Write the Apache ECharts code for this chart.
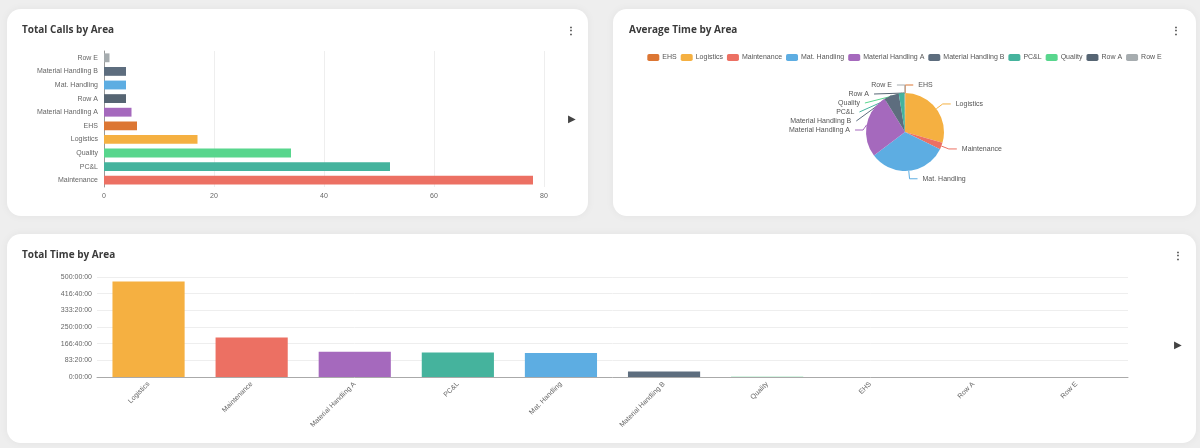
<!DOCTYPE html>
<html>
<head>
<meta charset="utf-8">
<script src="https://cdn.jsdelivr.net/npm/echarts/dist/echarts.min.js"></script>
<style>
  html, body { margin: 0; padding: 0; }
  body {
    width: 1200px; height: 448px; position: relative; overflow: hidden;
    background: #eeeeee; font-family: "Open Sans", sans-serif;
  }
  .card {
    position: absolute; background: #fff; border-radius: 14px;
    box-shadow: 0 0 8px rgba(0, 0, 0, 0.05);
  }
  .card .chart { position: absolute; left: 0; top: 0; width: 100%; height: 100%; }
  .dots { position: absolute; font-size: 10px; font-weight: bold; color: #333; line-height: 10px; }
  .arrow { position: absolute; font-size: 10px; color: #444; line-height: 10px; }
</style>
</head>
<body>
<div class="card" style="left:7px;top:9px;width:581px;height:207px;">
  <div id="calls" class="chart"></div>
  <span class="dots" style="left:559px;top:16px;">&#8942;</span>
  <span class="arrow" style="left:561px;top:104px;">&#9654;</span>
</div>
<div class="card" style="left:613px;top:9px;width:583px;height:207px;">
  <div id="avg" class="chart"></div>
  <span class="dots" style="left:558px;top:16px;">&#8942;</span>
</div>
<div class="card" style="left:7px;top:234px;width:1189px;height:209px;">
  <div id="total" class="chart"></div>
  <span class="dots" style="left:1166px;top:16px;">&#8942;</span>
  <span class="arrow" style="left:1167px;top:105px;">&#9654;</span>
</div>
<script>
  // colours per area
  var areaColors = {
    'EHS': '#dc7633',
    'Logistics': '#f5b041',
    'Maintenance': '#ec7063',
    'Mat. Handling': '#5dade2',
    'Material Handling A': '#a569bd',
    'Material Handling B': '#5d6d7e',
    'PC&L': '#45b39d',
    'Quality': '#58d68d',
    'Row A': '#566573',
    'Row E': '#a6acaf'
  }

  // Total Calls by Area (bottom to top)
  var callAreas = ['Maintenance', 'PC&L', 'Quality', 'Logistics', 'EHS', 'Material Handling A', 'Row A', 'Mat. Handling', 'Material Handling B', 'Row E']
  var callCounts = [78, 52, 34, 17, 6, 5, 4, 4, 4, 1]

  // Average Time by Area (hours)
  var avgAreas = ['EHS', 'Logistics', 'Maintenance', 'Mat. Handling', 'Material Handling A', 'Material Handling B', 'PC&L', 'Quality', 'Row A', 'Row E']
  var avgHours = [0.15, 26.5, 2.5, 29.3, 24, 5.6, 2.1, 0.08, 0.1, 0.05]

  // Total Time by Area (hours)
  var totalAreas = ['Logistics', 'Maintenance', 'Material Handling A', 'PC&L', 'Mat. Handling', 'Material Handling B', 'Quality', 'EHS', 'Row A', 'Row E']
  var totalHours = [478, 197, 126, 122, 120, 27, 0.8, 0.4, 0.3, 0.2]

  var titleStyle = { fontSize: 10, fontWeight: 'bold', color: '#3a3a3a', fontFamily: 'Open Sans' }
  var labelColor = '#666'

  function hms (hours) {
    var s = Math.round(hours * 3600)
    var h = Math.floor(s / 3600)
    var m = Math.floor((s % 3600) / 60)
    var sec = s % 60
    return h + ':' + (m < 10 ? '0' : '') + m + ':' + (sec < 10 ? '0' : '') + sec
  }

  var callsChart = echarts.init(document.getElementById('calls'))
  callsChart.setOption({
    animation: false,
    title: { text: 'Total Calls by Area', left: 15, top: 16, padding: 0, textStyle: titleStyle },
    grid: { left: 97, right: 44, top: 42, bottom: 29 },
    xAxis: {
      type: 'value', min: 0, max: 80, interval: 20,
      axisLabel: { fontSize: 7, color: labelColor, margin: 6 },
      splitLine: { lineStyle: { color: '#eeeeee' } }
    },
    yAxis: {
      type: 'category', data: callAreas,
      axisLine: { lineStyle: { color: '#999' } },
      axisTick: { lineStyle: { color: '#999' }, length: 3 },
      axisLabel: { fontSize: 7, color: labelColor, margin: 6 }
    },
    series: [{
      type: 'bar', barWidth: '65%',
      data: callCounts.map(function (v, i) {
        return { value: v, itemStyle: { color: areaColors[callAreas[i]] } }
      })
    }]
  })

  var avgChart = echarts.init(document.getElementById('avg'))
  avgChart.setOption({
    animation: false,
    color: avgAreas.map(function (a) { return areaColors[a] }),
    title: { text: 'Average Time by Area', left: 16, top: 16, padding: 0, textStyle: titleStyle },
    legend: {
      top: 40, left: 'center', itemWidth: 12, itemHeight: 7, itemGap: 4,
      icon: 'roundRect',
      textStyle: { fontSize: 7, color: '#555', padding: [0, 0, 0, -2] },
      data: avgAreas
    },
    series: [{
      type: 'pie', radius: 39, center: [292, 123],
      label: { fontSize: 7, color: '#555' },
      labelLine: { length: 8, length2: 8, lineStyle: { width: 1 } },
      data: avgAreas.map(function (a, i) { return { name: a, value: avgHours[i] } })
    }]
  })

  var totalChart = echarts.init(document.getElementById('total'))
  totalChart.setOption({
    animation: false,
    title: { text: 'Total Time by Area', left: 15, top: 16, padding: 0, textStyle: titleStyle },
    grid: { left: 90, right: 68, top: 43, bottom: 66 },
    xAxis: {
      type: 'category', data: totalAreas,
      axisLine: { lineStyle: { color: '#aaa' } },
      axisTick: { lineStyle: { color: '#aaa' }, length: 3 },
      axisLabel: { fontSize: 7, color: labelColor, rotate: 45, margin: 6, interval: 0 }
    },
    yAxis: {
      type: 'value', min: 0, max: 500, interval: 500 / 6,
      axisLabel: { fontSize: 7, color: labelColor, margin: 5, formatter: hms },
      splitLine: { lineStyle: { color: '#eeeeee' } }
    },
    series: [{
      type: 'bar', barWidth: '70%',
      data: totalHours.map(function (v, i) {
        return { value: v, itemStyle: { color: areaColors[totalAreas[i]] } }
      })
    }]
  })
</script>
</body>
</html>
